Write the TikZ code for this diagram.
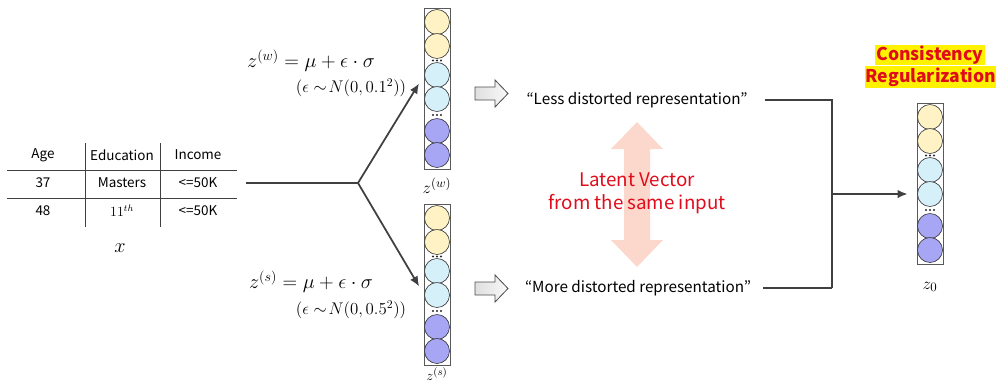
\documentclass[tikz,border=0pt]{standalone}
\usepackage{fontspec}
\newfontfamily\krsans{Noto Sans CJK KR}
\usetikzlibrary{arrows.meta}

\definecolor{zyellow}{RGB}{255,242,196}
\definecolor{zblue}{RGB}{214,240,250}
\definecolor{zpurple}{RGB}{166,166,245}
\definecolor{linegray}{RGB}{64,64,64}
\definecolor{latentred}{RGB}{224,12,28}
\definecolor{pinkarr}{RGB}{252,216,204}

% one latent vector: name, x of centre, top y
\newcommand{\zvector}[3]{%
  \node[zbox] (#1) at (#2,#3+80.5) {};
  \foreach \dy/\c in {14/zyellow,38/zyellow,67/zblue,91/zblue,123/zpurple,147/zpurple}
    \node[unit,fill=\c] (#1-\dy) at (#2,#3+\dy) {};
  \foreach \dy in {52.5,107}
    \foreach \dx in {-4,0,4}
      \fill[gray!30!black] (#2+\dx,#3+\dy) circle (0.35mm);
}

\begin{document}
\begin{tikzpicture}[x=0.3mm,y=-0.3mm,>={Latex[length=3mm,width=2.6mm]}]
\tikzstyle{cell}=[font=\krsans\fontsize{11.5}{13}\selectfont,inner sep=1pt]
\tikzstyle{rule}=[draw=linegray,line width=0.8pt]
\tikzstyle{link}=[draw=linegray,line width=1.5pt]
\tikzstyle{zbox}=[draw=gray!70!black,fill=white,line width=0.8pt,minimum width=7.8mm,minimum height=48.3mm,inner sep=0]
\tikzstyle{unit}=[draw=gray!40!black,circle,line width=0.5pt,minimum size=7.5mm,inner sep=0]
\tikzstyle{eq}=[font=\fontsize{17}{20}\selectfont]
\tikzstyle{noise}=[font=\fontsize{14}{17}\selectfont]
\tikzstyle{zlab}=[font=\fontsize{15}{17}\selectfont]
\tikzstyle{repr}=[font=\krsans\fontsize{13}{15}\selectfont]
\tikzstyle{hollow}=[draw=gray!60!black,left color=gray!25,right color=gray!5,line width=0.7pt]
\tikzstyle{latent}=[font=\krsans\fontsize{16}{20}\selectfont,text=latentred,align=center]
\tikzstyle{hl}=[font=\krsans\bfseries\fontsize{15}{18}\selectfont,text=latentred,fill=yellow,inner sep=1pt]

\useasboundingbox (0,0) rectangle (996,385);

% input table
\draw (43,155) node[cell] (hage) {Age};
\draw (122,155) node[cell] (hedu) {Education};
\draw (198,155) node[cell] (hinc) {Income};
\draw (43,183) node[cell] (age1) {37};
\draw (122,183) node[cell] (edu1) {Masters};
\draw (198,183) node[cell] (inc1) {<=50K};
\draw (43,211) node[cell] (age2) {48};
\draw (122,211) node[cell] (edu2) {$11^{th}$};
\draw (198,211) node[cell] (inc2) {<=50K};
\draw[rule] (7,170) -- (237,170);
\draw[rule] (7,198) -- (237,198);
\draw[rule] (85,143) -- (85,227);
\draw[rule] (160,143) -- (160,227);
\draw (120,248) node[font=\fontsize{16}{18}\selectfont] (xin) {$x$};

% latent vectors
\zvector{zw}{437}{8}
\zvector{zs}{437}{204}
\zvector{z0}{930}{103}
\node[zlab] (zwlab) at (437,186) {$z^{(w)}$};
\node[zlab,font=\fontsize{13}{15}\selectfont] (zslab) at (437,374) {$z^{(s)}$};
\node[zlab] (z0lab) at (930,287) {$z_0$};

% sampling
\node[eq] (eqw) at (311,61) {$z^{(w)} = \mu + \epsilon \cdot \sigma$};
\node[noise] (nw) at (351,88) {$(\epsilon \sim\! N(0,0.1^2))$};
\node[eq] (eqs) at (311,282) {$z^{(s)} = \mu + \epsilon \cdot \sigma$};
\node[noise] (ns) at (351,310) {$(\epsilon \sim\! N(0,0.5^2))$};

\coordinate (tin) at (246,183);
\coordinate (split) at (358,183);
\draw[link] (tin) -- (split);
\draw[link,->,shorten >=3mm] (split) -- (zw-67.west);
\draw[link,->,shorten >=3mm] (split) -- (zs-91.west);

% representations
\draw[hollow] (475,87) -- (495,87) -- (495,80) -- (508,93.5) -- (495,107) -- (495,100) -- (475,100) -- cycle;
\draw[hollow] (475,282) -- (495,282) -- (495,275) -- (508,288.5) -- (495,302) -- (495,295) -- (475,295) -- cycle;
\node[repr] (less) at (637,100) {“Less distorted representation”};
\node[repr] (more) at (638,288) {“More distorted representation”};

\fill[pinkarr] (637,122) -- (663,149) -- (650,149) -- (650,240) -- (663,240) -- (637,267)
  -- (611,240) -- (624,240) -- (624,149) -- (611,149) -- cycle;
\node[latent] (lat) at (637,193.5) {Latent Vector\\from the same input};

% consistency
\coordinate (join) at (832,288);
\coordinate (mid) at (832,194);
\draw[link,shorten <=4mm] (less.east) -| (join);
\draw[link,shorten <=2.5mm] (more.east) -- (join);
\draw[link,->,shorten >=2.7mm] (mid) -- (mid -| z0.west);
\node[hl] (cons) at (930,55) {Consistency};
\node[hl] (reg) at (931,77) {Regularization};
\end{tikzpicture}
\end{document}
